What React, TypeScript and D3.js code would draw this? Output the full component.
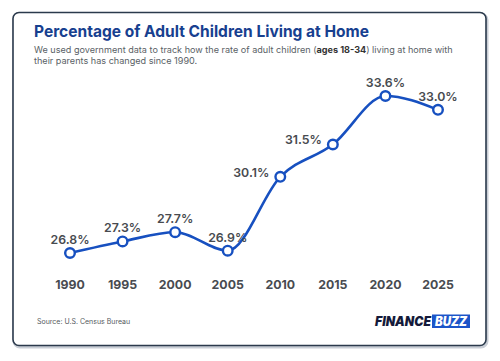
import React, { useRef, useEffect } from 'react';
import * as d3 from 'd3';

const years = ['1990', '1995', '2000', '2005', '2010', '2015', '2020', '2025'];
const rates = [26.8, 27.3, 27.7, 26.9, 30.1, 31.5, 33.6, 33.0];
// where each value label sits relative to its point
const labelSide = ['top', 'top', 'top', 'top', 'left', 'left', 'top', 'top'];

const W = 500;
const H = 361;

export default function App() {
  const svgRef = useRef<SVGSVGElement | null>(null);

  useEffect(() => {
    if (!svgRef.current) return;
    const svg = d3.select(svgRef.current);
    svg.selectAll('*').remove();

    const font = 'Inter, "Noto Sans", sans-serif';

    svg.append('rect').attr('width', W).attr('height', H).attr('fill', '#ffffff');

    // card
    svg.append('rect')
      .attr('x', 13.5).attr('y', 13)
      .attr('width', 473).attr('height', 333)
      .attr('rx', 6)
      .attr('fill', 'none')
      .attr('stroke', '#c9ced6')
      .attr('stroke-width', 3)
      .attr('transform', 'translate(0.5,1)');
    svg.append('rect')
      .attr('x', 13).attr('y', 12.5)
      .attr('width', 473).attr('height', 333)
      .attr('rx', 6)
      .attr('fill', '#ffffff')
      .attr('stroke', '#2b3a4c')
      .attr('stroke-width', 1.6);

    svg.append('text')
      .attr('x', 34).attr('y', 37)
      .attr('font-family', font)
      .attr('font-size', 16.2)
      .attr('font-weight', 700)
      .attr('fill', '#17408f')
      .attr('textLength', 335)
      .attr('lengthAdjust', 'spacingAndGlyphs')
      .text('Percentage of Adult Children Living at Home');

    const sub = svg.append('text')
      .attr('x', 34).attr('y', 53)
      .attr('font-family', font)
      .attr('font-size', 9.1)
      .attr('fill', '#5a5f66');
    sub.append('tspan').text('We used government data to track how the rate of adult children (');
    sub.append('tspan').attr('font-weight', 700).attr('fill', '#333').text('ages 18-34');
    sub.append('tspan').text(') living at home with');
    svg.append('text')
      .attr('x', 34).attr('y', 64)
      .attr('font-family', font)
      .attr('font-size', 9.1)
      .attr('fill', '#5a5f66')
      .text('their parents has changed since 1990.');

    const x = d3.scalePoint<string>()
      .domain(years)
      .range([70, 438]);

    const y = d3.scaleLinear()
      .domain([26.8, 33.6])
      .range([253, 96]);

    const data = years.map((yr, i) => ({ yr, v: rates[i], side: labelSide[i] }));

    const line = d3.line<{ yr: string; v: number }>()
      .x(d => x(d.yr) as number)
      .y(d => y(d.v))
      .curve(d3.curveMonotoneX);

    svg.append('path')
      .datum(data)
      .attr('fill', 'none')
      .attr('stroke', '#1750c0')
      .attr('stroke-width', 2.6)
      .attr('d', line);

    svg.selectAll('circle.pt')
      .data(data)
      .enter().append('circle')
      .attr('class', 'pt')
      .attr('cx', d => x(d.yr) as number)
      .attr('cy', d => y(d.v))
      .attr('r', 4.8)
      .attr('fill', '#ffffff')
      .attr('stroke', '#1750c0')
      .attr('stroke-width', 2.4);

    svg.selectAll('text.val')
      .data(data)
      .enter().append('text')
      .attr('class', 'val')
      .attr('x', d => (x(d.yr) as number) + (d.side === 'left' ? -11 : 0))
      .attr('y', d => y(d.v) + (d.side === 'left' ? 0 : -9))
      .attr('text-anchor', d => (d.side === 'left' ? 'end' : 'middle'))
      .attr('font-family', font)
      .attr('font-size', 12.3)
      .attr('font-weight', 600)
      .attr('fill', '#484b50')
      .text(d => d.v.toFixed(1) + '%');

    svg.selectAll('text.yr')
      .data(years)
      .enter().append('text')
      .attr('class', 'yr')
      .attr('x', d => x(d) as number)
      .attr('y', 289)
      .attr('text-anchor', 'middle')
      .attr('font-family', font)
      .attr('font-size', 12.3)
      .attr('font-weight', 700)
      .attr('fill', '#484b50')
      .text(d => d);

    svg.append('text')
      .attr('x', 37).attr('y', 324)
      .attr('font-family', font)
      .attr('font-size', 7)
      .attr('fill', '#555a60')
      .text('Source: U.S. Census Bureau');

    // logo
    svg.append('text')
      .attr('x', 375).attr('y', 326)
      .attr('font-family', font)
      .attr('font-size', 12.5)
      .attr('font-weight', 900)
      .attr('font-style', 'italic')
      .attr('fill', '#141a3a')
      .attr('textLength', 56)
      .attr('lengthAdjust', 'spacingAndGlyphs')
      .text('FINANCE');
    svg.append('rect')
      .attr('x', 432).attr('y', 314.5)
      .attr('width', 38).attr('height', 13.5)
      .attr('fill', '#1c55c9');
    svg.append('text')
      .attr('x', 435).attr('y', 326)
      .attr('font-family', font)
      .attr('font-size', 12.5)
      .attr('font-weight', 900)
      .attr('font-style', 'italic')
      .attr('fill', '#ffffff')
      .attr('textLength', 32)
      .attr('lengthAdjust', 'spacingAndGlyphs')
      .text('BUZZ');
  }, []);

  return (
    <svg
      ref={svgRef}
      width={W}
      height={H}
      viewBox={`0 0 ${W} ${H}`}
      style={{ position: 'absolute', left: 0, top: 0, display: 'block' }}
    />
  );
}
